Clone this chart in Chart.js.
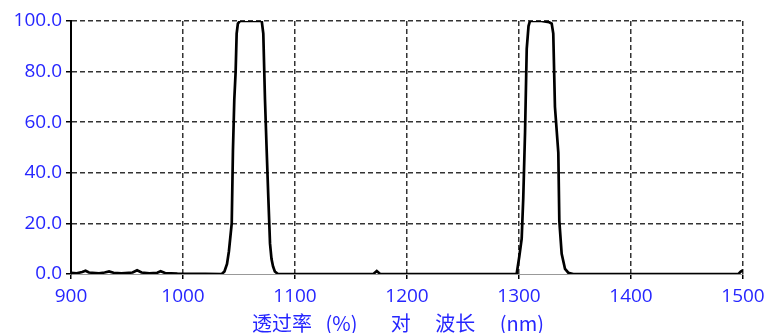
<!DOCTYPE html>
<html>
<head>
<meta charset="utf-8">
<script src="https://cdn.jsdelivr.net/npm/chart.js@4/dist/chart.umd.min.js"></script>
<style>
  html, body { margin: 0; padding: 0; background: #fff; }
  #wrap { width: 771px; height: 333px; position: relative; }
</style>
</head>
<body>
<div id="wrap"><canvas id="c" width="771" height="333"></canvas></div>
<script>
// Wavelength (nm) and transmittance (%)
const wavelengths = [
  900, 905, 910, 913, 916, 925, 930, 934, 938, 945, 955, 959, 963, 970, 977, 980, 984, 995, 1020,
  1034.6, 1037, 1039.3, 1041, 1043.5, 1044.6, 1045.8, 1047, 1047.9, 1049, 1050.9,
  1070.3, 1071.7, 1073.2, 1074.7, 1076.2, 1077.7, 1079, 1080.4, 1082, 1084.8,
  1100, 1170, 1173, 1176, 1250,
  1297.9, 1300.3, 1302.4, 1303.8, 1305.4, 1306.9, 1308.5, 1309.8,
  1320, 1327, 1329.2, 1330.6, 1332.1, 1335.1, 1336, 1338.1, 1341.1, 1344, 1348.5,
  1400, 1496, 1498, 1500
];
const transmittance = [
  0.5, 0.3, 0.8, 1.3, 0.6, 0.3, 0.6, 1.0, 0.5, 0.3, 0.6, 1.5, 0.6, 0.3, 0.5, 1.1, 0.4, 0.2, 0.1,
  0, 1, 4, 9, 20, 49, 69, 80, 95, 99, 100,
  100, 95, 69, 49, 30, 12, 6, 3, 1, 0,
  0, 0, 1.2, 0, 0,
  0, 7, 14, 30, 56, 89, 98, 100,
  100, 99.5, 99, 95, 66, 48, 21, 8, 2, 0.5, 0,
  0, 0, 1.0, 1.5
];
const xTicks = [900, 1000, 1100, 1200, 1300, 1400, 1500];
const yTicks = [0, 20, 40, 60, 80, 100];
const xTitle = '透过率   (%)\u3000   对\u3000 波长\u3000 (nm)    ';

const points = wavelengths.map((w, i) => ({ x: w, y: transmittance[i] }));
const blue = '#2626ff';
const tickFont = { family: '"Open Sans", "Liberation Sans", sans-serif', size: 19 };

new Chart(document.getElementById('c'), {
  type: 'scatter',
  data: {
    datasets: [{
      data: points,
      showLine: true,
      borderColor: '#000',
      borderWidth: 2.7,
      pointRadius: 0,
      tension: 0,
      fill: false
    }]
  },
  options: {
    responsive: false,
    animation: false,
    layout: { padding: { top: 21, right: 28, left: 0, bottom: 0 } },
    plugins: { legend: { display: false }, tooltip: { enabled: false } },
    scales: {
      x: {
        type: 'linear',
        min: xTicks[0],
        max: xTicks[xTicks.length - 1],
        afterBuildTicks: s => { s.ticks = xTicks.map(v => ({ value: v })); },
        afterFit: s => { s.height = 59; },
        ticks: { color: blue, font: tickFont, padding: 6, callback: v => String(v) },
        grid: {
          color: c => (c.tick && c.tick.value === xTicks[0]) ? 'rgba(0,0,0,0)' : '#333',
          lineWidth: 1.5,
          tickLength: 5,
          tickColor: '#000',
          tickWidth: 1.5
        },
        border: { display: true, color: '#999', width: 1, dash: [5, 3] },
        title: {
          display: true,
          text: xTitle,
          color: blue,
          font: { family: '"Noto Sans CJK SC", sans-serif', size: 20, lineHeight: 1 },
          padding: { top: 0, bottom: 0 }
        }
      },
      y: {
        min: yTicks[0],
        max: yTicks[yTicks.length - 1],
        afterBuildTicks: s => { s.ticks = yTicks.map(v => ({ value: v })); },
        afterFit: s => { s.width = 71; },
        ticks: { color: blue, font: tickFont, padding: 4, callback: v => Number(v).toFixed(1) },
        grid: {
          color: c => (c.tick && c.tick.value === yTicks[0]) ? 'rgba(0,0,0,0)' : '#333',
          lineWidth: 1.5,
          tickLength: 5,
          tickColor: '#000',
          tickWidth: 1.5
        },
        border: { display: true, color: '#000', width: 2, dash: [5, 3] }
      }
    }
  }
});
</script>
</body>
</html>
